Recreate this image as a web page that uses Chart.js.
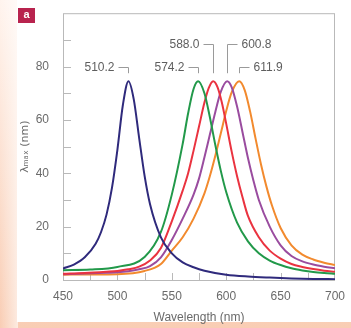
<!DOCTYPE html>
<html>
<head>
<meta charset="utf-8">
<script src="https://cdn.jsdelivr.net/npm/chart.js@4"></script>
<style>
  html, body { margin: 0; padding: 0; background: #fff; }
  #wrap { width: 351px; height: 328px; }
</style>
</head>
<body>
<div id="wrap"><canvas id="spectra" width="351" height="328"></canvas></div>
<script>
// ---- data ----
const peakNm = [510.2, 574.2, 588.0, 600.8, 611.9];
const peakLabels = ['510.2', '574.2', '588.0', '600.8', '611.9'];

const blueNm  = [450, 460, 470, 480, 485, 490, 495, 500, 505, 510.2, 515, 520, 525, 530, 540, 550, 560, 570, 580, 600, 620, 640, 660, 680, 700];
const blueVal = [4.3, 5.8, 8.5, 13.6, 18, 24.5, 34.5, 48.8, 65.5, 74.5, 67.8, 53.2, 39, 28.4, 16, 10, 6.6, 4.8, 3.5, 2.0, 1.3, 0.9, 0.6, 0.4, 0.3];

const greenNm  = [450, 475, 500, 525, 540, 550, 560, 565, 570, 574.2, 580, 585, 590, 595, 600, 610, 620, 630, 640, 650, 660, 670, 680, 690, 700];
const greenVal = [3.7, 3.9, 4.9, 8.6, 18, 32, 51, 62.5, 71.6, 74.5, 70, 61, 50.6, 41, 33, 21.5, 14.5, 10, 7.3, 5.6, 4.4, 3.6, 3.0, 2.6, 2.3];

const redNm  = [450, 470, 490, 500, 510, 520, 530, 540, 550, 560, 565, 570, 575, 580, 584, 588.0, 592, 596, 600, 605, 610, 615, 620, 630, 640, 650, 660, 670, 680, 690, 700];
const redVal = [2.3, 2.6, 3.1, 3.4, 4.0, 5.0, 7.3, 12, 22, 33.5, 40, 48.5, 57.5, 66.5, 72, 74.5, 72.3, 66.5, 58.6, 48.2, 38.9, 31, 24, 16, 11, 8, 6, 4.9, 4.1, 3.5, 3.1];

const purpleNm  = [450, 470, 490, 500, 510, 520, 530, 540, 550, 560, 570, 575, 580, 585, 590, 595, 600.8, 605, 610, 615, 620, 625, 630, 640, 650, 660, 670, 680, 690, 700];
const purpleVal = [2.2, 2.4, 2.7, 2.9, 3.3, 4.0, 5.2, 8.5, 15, 23, 32, 38, 46, 54.5, 63, 70.5, 74.5, 72.3, 65, 55.4, 45.7, 37.3, 30, 20, 13, 9, 7, 5.8, 5, 4.4];

const orangeNm  = [450, 475, 500, 525, 540, 550, 560, 570, 580, 585, 590, 595, 600, 605, 611.9, 617, 622, 627, 632, 637, 642, 650, 660, 670, 680, 690, 700];
const orangeVal = [2.0, 2.1, 2.2, 3.4, 6, 11, 16, 23, 32.5, 39, 46.6, 54.9, 63.3, 70.3, 74.5, 71.2, 63.1, 53, 43.3, 35, 28, 19.5, 13, 9.5, 7.7, 6.5, 5.6];

const xTicks = [450, 500, 550, 600, 650, 700];
const yTicks = [0, 20, 40, 60, 80];

function pts(nm, val) {
    return nm.map((x, i) => ({ x: x, y: val[i] }));
}

// background panel, badge, frame and inward ticks
const decorPlugin = {
    id: 'decor',
    beforeDraw(chart) {
        const c = chart.ctx;
        const w = chart.width, h = chart.height;
        const g = c.createLinearGradient(0, 0, 0, h);
        g.addColorStop(0, '#fff4ee');
        g.addColorStop(1, '#f9cdb4');
        c.save();
        c.fillStyle = g;
        c.fillRect(0, 0, w, h);
        const g2 = c.createLinearGradient(0, 0, 18, 0);
        g2.addColorStop(0, 'rgba(255,255,255,0)');
        g2.addColorStop(1, 'rgba(255,255,255,0.6)');
        c.fillStyle = g2;
        c.fillRect(0, 0, 18, h);
        c.fillStyle = '#ffffff';
        c.fillRect(17, 0, w - 17, 322);
        // panel badge
        c.fillStyle = '#b8234e';
        c.fillRect(18, 8, 17, 15);
        c.fillStyle = '#fff';
        c.font = 'bold 11px "Liberation Sans", Arial, sans-serif';
        c.textAlign = 'center';
        c.textBaseline = 'middle';
        c.fillText('a', 26.5, 15);
        c.restore();
    },
    beforeDatasetsDraw(chart) {
        const c = chart.ctx;
        const a = chart.chartArea;
        const xs = chart.scales.x, ys = chart.scales.y;
        c.save();
        c.strokeStyle = '#b9b9b9';
        c.lineWidth = 1;
        c.strokeRect(a.left + 0.5, a.top + 0.5, a.right - a.left - 1, a.bottom - a.top);
        c.beginPath();
        for (let v = 10; v < 100; v += 10) {
            const y = Math.round(ys.getPixelForValue(v)) + 0.5;
            c.moveTo(a.left, y);
            c.lineTo(a.left + 8, y);
        }
        for (let v = 475; v < 700; v += 25) {
            const x = Math.round(xs.getPixelForValue(v)) + 0.5;
            c.moveTo(x, a.bottom);
            c.lineTo(x, a.bottom - 7);
        }
        c.stroke();
        c.restore();
    },
    afterDatasetsDraw(chart) {
        const c = chart.ctx;
        const xs = chart.scales.x, ys = chart.scales.y;
        // label rows and which side the text sits on
        const rows = [80, 80, 88.5, 88.5, 80];
        const side = [-1, -1, -1, 1, 1];
        const tipY = ys.getPixelForValue(77.5);
        c.save();
        c.strokeStyle = '#9a9a9a';
        c.lineWidth = 1;
        c.fillStyle = '#5e5e5e';
        c.font = '12px "Liberation Sans", Arial, sans-serif';
        c.textBaseline = 'middle';
        peakNm.forEach((nm, i) => {
            const px = Math.round(xs.getPixelForValue(nm)) + 0.5;
            const py = Math.round(ys.getPixelForValue(rows[i])) + 0.5;
            const s = side[i];
            c.beginPath();
            c.moveTo(px, tipY);
            c.lineTo(px, py);
            c.lineTo(px + s * 10, py);
            c.stroke();
            c.textAlign = s < 0 ? 'right' : 'left';
            c.fillText(peakLabels[i], px + s * 14, py);
        });
        c.restore();
    }
};

const lineStyle = { fill: false, borderWidth: 2, pointRadius: 0, cubicInterpolationMode: 'monotone' };
const axisFont = { size: 12, family: '"Liberation Sans", Arial, sans-serif' };

new Chart(document.getElementById('spectra').getContext('2d'), {
    type: 'line',
    data: {
        datasets: [
            Object.assign({ label: '510.2', data: pts(blueNm, blueVal), borderColor: '#2f2a7c' }, lineStyle),
            Object.assign({ label: '574.2', data: pts(greenNm, greenVal), borderColor: '#22994a' }, lineStyle),
            Object.assign({ label: '588.0', data: pts(redNm, redVal), borderColor: '#ea3340' }, lineStyle),
            Object.assign({ label: '600.8', data: pts(purpleNm, purpleVal), borderColor: '#9a4c9f' }, lineStyle),
            Object.assign({ label: '611.9', data: pts(orangeNm, orangeVal), borderColor: '#f28a2e' }, lineStyle)
        ]
    },
    options: {
        responsive: false,
        animation: false,
        layout: { padding: { left: 17, right: 16, top: 10, bottom: 0 } },
        plugins: { legend: { display: false }, tooltip: { enabled: false } },
        scales: {
            x: {
                type: 'linear',
                min: 450,
                max: 700,
                afterFit: s => { s.height = 48; },
                afterBuildTicks: s => { s.ticks = xTicks.map(v => ({ value: v })); },
                grid: { display: false },
                border: { display: false },
                ticks: { color: '#6a6a6a', padding: 1, maxRotation: 0, font: axisFont },
                title: { display: true, text: 'Wavelength (nm)', color: '#6a6a6a', padding: { top: 0, bottom: 3 }, font: axisFont }
            },
            y: {
                min: 0,
                max: 100,
                afterFit: s => { s.width = 46; },
                afterBuildTicks: s => { s.ticks = yTicks.map(v => ({ value: v })); },
                grid: { display: false },
                border: { display: false },
                ticks: { color: '#6a6a6a', padding: 6, font: axisFont },
                title: { display: true, text: 'λₘₐₓ (nm)', color: '#6a6a6a', padding: { top: 2, bottom: 2 }, font: { size: 11, family: '"DejaVu Sans", sans-serif' } }
            }
        }
    },
    plugins: [decorPlugin]
});
</script>
</body>
</html>
